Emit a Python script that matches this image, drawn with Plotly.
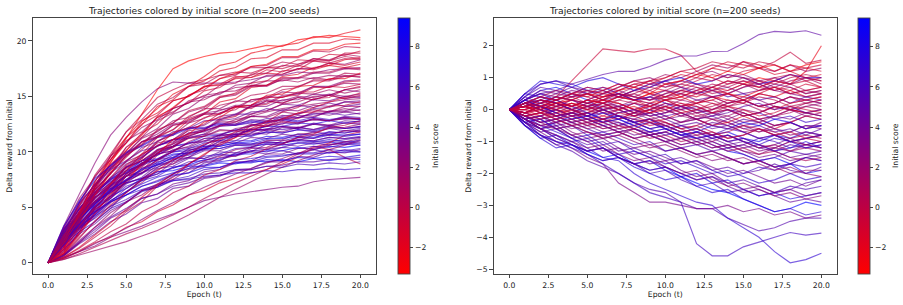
import plotly.graph_objects as go

epochs = list(range(21))

# initial score of each seed (shared by both panels)
scores = [8.1, 8.5, 9.0, 9.43,
          -3.31, 5.05, 3.0, 1.0,
          -2.3, 5.2, 3.1, 1.15,
          -1.8, 5.35, 3.25, 1.3,
          -1.4, 5.5, 3.4, 1.45,
          -1.1, 5.7, 3.55, 1.6,
          -0.8, 5.9, 3.7, 1.75,
          -0.55, 6.1, 3.85, 1.9,
          -0.3, 6.3, 4.0, 2.05,
          -0.1, 6.5, 4.15, 2.2,
          0.1, 6.7, 4.3, 2.35,
          0.3, 6.95, 4.45, 2.5,
          0.5, 7.2, 4.6, 2.65,
          0.7, 7.5, 4.75, 2.8,
          0.85, 7.8, 4.9, 2.95,
          -2.7, 5.25, 3.05, 1.2,
          -2.0, 5.8, 3.45, 1.5,
          -1.55, 6.4, 3.9, 1.8,
          -1.25, 6.85, 4.35, 2.1,
          -0.95, 7.35, 4.8, 2.4,
          -0.65, 8.3, 2.7, 0.95,
          -0.4, -0.2, 0.0, 0.2, 0.4, 0.6]

left_paths = [
    [0, 3.0, 4.8, 6.1, 7.5, 8.1, 9.0, 9.3, 9.8, 9.9, 10.3, 10.3, 10.6, 10.5, 10.7, 10.6, 10.8, 10.7, 10.9, 10.7, 10.8],
    [0, 2.4, 4.1, 5.3, 6.7, 7.5, 8.5, 9.0, 9.7, 9.9, 10.5, 10.6, 11.0, 11.0, 11.4, 11.3, 11.6, 11.5, 11.8, 11.7, 11.9],
    [0, 2.5, 4.0, 5.5, 6.3, 7.2, 7.6, 8.2, 8.3, 8.7, 8.7, 9.0, 8.9, 9.2, 9.1, 9.3, 9.1, 9.4, 9.2, 9.4, 9.3],
    [0, 2.1, 3.6, 4.7, 6.0, 6.7, 7.6, 8.0, 8.6, 8.8, 9.3, 9.4, 9.8, 9.8, 10.1, 10.1, 10.4, 10.2, 10.5, 10.4, 10.6],
    [0, 1.6, 4.0, 6.6, 9.0, 11.2, 13.3, 15.6, 17.5, 18.2, 18.6, 18.9, 19.0, 19.3, 19.6, 19.5, 20.1, 20.3, 20.5, 20.4, 20.3],
    [0, 2.4, 4.1, 5.9, 6.9, 8.3, 8.8, 9.8, 10.1, 10.8, 10.9, 11.5, 11.5, 12.0, 11.9, 12.3, 12.1, 12.5, 12.3, 12.6, 12.5],
    [0, 0.5, 1.0, 1.5, 2.3, 2.8, 3.3, 3.9, 4.4, 5.0, 5.6, 5.9, 6.2, 6.4, 6.6, 6.8, 6.9, 7.3, 7.5, 7.6, 7.7],
    [0, 2.6, 5.4, 7.8, 9.3, 11.0, 11.8, 13.1, 13.6, 14.5, 14.7, 15.4, 15.5, 16.0, 16.0, 16.5, 16.3, 16.7, 16.5, 16.9, 16.7],
    [0, 1.4, 4.0, 6.8, 9.1, 10.8, 12.7, 13.9, 15.2, 15.9, 16.8, 17.8, 18.1, 18.9, 19.2, 19.6, 19.8, 20.4, 20.3, 20.7, 21.0],
    [0, 2.6, 4.3, 5.9, 6.7, 7.8, 8.1, 8.9, 8.9, 9.5, 9.4, 9.8, 9.6, 10.0, 9.8, 10.1, 9.8, 10.2, 9.9, 10.2, 10.0],
    [0, 2.3, 4.0, 5.8, 7.1, 8.6, 9.4, 10.6, 11.1, 12.1, 12.4, 13.2, 13.4, 14.1, 14.1, 14.7, 14.7, 15.2, 15.1, 15.6, 15.4],
    [0, 0.7, 2.2, 3.8, 4.9, 6.4, 7.2, 8.4, 8.9, 9.9, 10.3, 11.2, 11.4, 12.1, 12.3, 13.0, 13.0, 13.6, 13.6, 14.1, 14.1],
    [0, 0.9, 2.8, 4.9, 6.5, 8.3, 9.4, 10.9, 11.6, 12.9, 13.4, 14.5, 14.8, 15.8, 16.0, 16.8, 17.0, 17.6, 17.8, 18.3, 18.5],
    [0, 2.8, 4.6, 6.1, 7.7, 8.6, 9.5, 10.5, 11.1, 11.4, 11.9, 12.3, 12.4, 12.6, 13.0, 13.1, 13.1, 13.4, 13.5, 13.3, 13.5],
    [0, 2.2, 4.2, 5.6, 7.0, 7.8, 9.0, 9.3, 10.2, 10.4, 11.0, 11.0, 11.6, 11.5, 12.0, 11.8, 12.2, 12.0, 12.4, 12.1, 12.3],
    [0, 2.2, 4.5, 6.6, 8.0, 9.7, 10.6, 11.9, 12.6, 13.6, 14.0, 14.9, 15.1, 15.9, 15.9, 16.6, 16.6, 17.1, 17.1, 17.5, 17.4],
    [0, 2.0, 4.6, 7.3, 9.6, 11.3, 12.8, 13.5, 14.6, 15.0, 15.9, 16.0, 16.6, 16.7, 17.1, 17.0, 17.5, 17.4, 17.8, 17.6, 17.9],
    [0, 1.9, 3.2, 4.2, 5.1, 6.1, 6.9, 7.4, 8.0, 8.7, 9.1, 9.3, 9.7, 10.1, 10.2, 10.4, 10.8, 10.9, 10.9, 11.1, 11.3],
    [0, 1.4, 3.0, 4.1, 5.4, 6.3, 7.5, 8.0, 9.1, 9.5, 10.4, 10.7, 11.5, 11.7, 12.4, 12.5, 13.1, 13.1, 13.7, 13.7, 14.1],
    [0, 2.7, 5.3, 7.0, 8.8, 9.9, 11.2, 11.8, 12.8, 13.1, 13.9, 13.9, 14.6, 14.5, 15.0, 14.9, 15.3, 15.2, 15.6, 15.3, 15.6],
    [0, 0.4, 1.0, 1.8, 2.3, 3.2, 3.7, 4.6, 5.2, 6.1, 6.5, 7.2, 7.6, 8.1, 8.4, 8.9, 9.5, 10.4, 10.8, 11.5, 11.8],
    [0, 2.7, 4.5, 6.3, 7.4, 8.6, 9.2, 10.0, 10.5, 10.7, 11.2, 11.2, 11.6, 11.5, 11.8, 11.7, 12.0, 11.8, 12.1, 11.9, 12.1],
    [0, 0.7, 1.8, 2.8, 4.0, 4.7, 5.8, 6.2, 7.1, 7.4, 8.2, 8.4, 9.0, 9.2, 9.8, 9.8, 10.3, 10.3, 10.7, 10.7, 11.1],
    [0, 0.3, 0.7, 1.1, 1.5, 1.9, 2.4, 2.9, 3.6, 4.3, 5.1, 5.9, 6.6, 7.3, 8.0, 8.6, 9.2, 9.7, 10.2, 10.6, 11.0],
    [0, 1.8, 4.2, 6.8, 8.9, 10.1, 11.7, 12.5, 13.9, 14.4, 15.5, 15.8, 16.7, 16.9, 17.6, 17.7, 18.3, 18.2, 18.8, 18.7, 19.1],
    [0, 1.8, 3.1, 4.0, 5.1, 5.7, 6.5, 6.8, 7.4, 7.6, 8.0, 8.1, 8.4, 8.4, 8.7, 8.6, 8.9, 8.8, 9.0, 8.9, 9.1],
    [0, 2.7, 4.4, 6.3, 7.5, 8.9, 9.5, 10.6, 10.9, 11.7, 11.8, 12.4, 12.4, 12.9, 12.8, 13.3, 13.1, 13.5, 13.3, 13.6, 13.4],
    [0, 1.2, 3.0, 5.3, 6.9, 8.7, 9.6, 11.0, 11.5, 12.6, 13.0, 13.8, 14.0, 14.7, 14.8, 15.4, 15.3, 15.9, 15.8, 16.2, 16.1],
    [0, 0.8, 2.5, 4.4, 5.8, 7.4, 8.3, 9.7, 10.4, 11.5, 11.9, 12.9, 13.2, 14.1, 14.3, 15.0, 15.1, 15.8, 15.8, 16.3, 16.4],
    [0, 2.3, 3.8, 5.4, 6.4, 7.5, 8.1, 8.9, 9.4, 9.7, 10.2, 10.3, 10.7, 10.7, 11.1, 11.0, 11.3, 11.2, 11.5, 11.4, 11.6],
    [0, 1.1, 2.8, 4.9, 6.4, 8.0, 8.9, 10.2, 10.7, 11.7, 12.0, 12.8, 13.0, 13.6, 13.7, 14.3, 14.2, 14.7, 14.6, 15.0, 14.9],
    [0, 2.8, 4.5, 6.4, 7.6, 9.1, 9.7, 10.8, 11.1, 11.9, 12.1, 12.7, 12.7, 13.2, 13.1, 13.6, 13.4, 13.8, 13.6, 13.9, 13.7],
    [0, 1.5, 4.1, 6.9, 9.6, 11.8, 13.4, 14.9, 15.6, 16.2, 16.5, 16.9, 17.2, 17.1, 17.6, 17.5, 17.9, 18.2, 18.0, 18.4, 18.3],
    [0, 3.2, 5.6, 7.4, 8.8, 10.0, 10.6, 11.4, 11.6, 12.2, 12.2, 12.6, 12.5, 12.8, 12.7, 13.0, 12.8, 13.1, 12.9, 13.1, 13.0],
    [0, 2.4, 3.9, 5.5, 6.5, 7.8, 8.3, 9.3, 9.5, 10.2, 10.3, 10.9, 10.8, 11.3, 11.2, 11.6, 11.4, 11.8, 11.6, 11.9, 11.8],
    [0, 2.3, 4.9, 6.6, 8.5, 9.8, 11.3, 12.1, 13.4, 13.9, 14.9, 15.2, 16.0, 16.2, 16.9, 17.0, 17.5, 17.5, 18.0, 17.9, 18.3],
    [0, 0.5, 1.3, 2.3, 3.3, 4.6, 5.5, 6.9, 7.7, 8.9, 9.7, 10.8, 11.3, 12.4, 12.7, 13.6, 14.0, 14.8, 14.9, 15.6, 15.9],
    [0, 1.6, 2.8, 3.7, 4.9, 5.5, 6.4, 6.8, 7.5, 7.8, 8.4, 8.6, 9.1, 9.1, 9.5, 9.6, 9.9, 9.9, 10.2, 10.1, 10.3],
    [0, 1.9, 3.3, 4.8, 5.8, 7.1, 7.7, 8.8, 9.2, 10.0, 10.2, 11.0, 11.0, 11.7, 11.6, 12.2, 12.1, 12.6, 12.4, 12.8, 12.7],
    [0, 0.6, 1.8, 3.2, 4.2, 5.5, 6.1, 7.1, 7.5, 8.4, 8.7, 9.5, 9.6, 10.3, 10.4, 11.0, 11.0, 11.5, 11.5, 11.9, 11.9],
    [0, 1.3, 3.7, 6.3, 8.3, 10.4, 11.6, 13.2, 13.9, 15.1, 15.6, 16.6, 16.9, 17.7, 17.8, 18.5, 18.5, 19.1, 19.0, 19.5, 19.4],
    [0, 2.5, 4.2, 5.5, 6.9, 7.8, 8.8, 9.3, 10.0, 10.3, 10.8, 11.0, 11.4, 11.4, 11.8, 11.7, 12.0, 11.9, 12.2, 12.1, 12.3],
    [0, 0.6, 1.7, 2.6, 3.7, 4.4, 5.4, 5.8, 6.7, 6.9, 7.6, 7.8, 8.4, 8.5, 9.1, 9.1, 9.6, 9.5, 10.0, 9.9, 10.2],
    [0, 3.0, 5.1, 6.8, 8.5, 9.6, 10.9, 11.4, 12.4, 12.7, 13.4, 13.5, 14.1, 14.0, 14.6, 14.4, 14.9, 14.7, 15.1, 14.8, 15.0],
    [0, 1.7, 3.9, 6.2, 8.1, 9.5, 10.9, 11.3, 12.4, 12.6, 13.4, 13.4, 14.1, 13.9, 14.6, 14.4, 14.9, 14.7, 15.1, 14.8, 15.1],
    [0, 2.0, 3.6, 4.6, 5.5, 6.1, 6.6, 7.0, 7.4, 7.5, 7.8, 7.9, 8.1, 8.1, 8.3, 8.2, 8.4, 8.4, 8.5, 8.4, 8.5],
    [0, 2.9, 4.9, 6.5, 8.1, 9.1, 10.4, 10.9, 11.8, 12.1, 12.8, 12.9, 13.4, 13.4, 13.9, 13.7, 14.2, 14.0, 14.4, 14.1, 14.3],
    [0, 1.6, 3.4, 5.1, 6.2, 7.8, 8.6, 9.9, 10.5, 11.6, 12.0, 13.0, 13.3, 14.2, 14.4, 15.1, 15.2, 15.9, 15.9, 16.4, 16.5],
    [0, 1.0, 2.6, 4.6, 6.0, 7.8, 8.7, 10.1, 10.8, 12.0, 12.5, 13.5, 13.8, 14.7, 14.9, 15.6, 15.8, 16.5, 16.5, 17.1, 17.0],
    [0, 2.9, 4.9, 6.3, 7.6, 8.3, 9.2, 9.4, 10.0, 10.1, 10.5, 10.5, 10.8, 10.7, 10.9, 10.8, 11.0, 10.9, 11.1, 10.9, 11.0],
    [0, 1.2, 2.6, 3.5, 4.7, 5.4, 6.5, 6.9, 7.8, 8.1, 9.0, 9.2, 9.9, 10.0, 10.7, 10.7, 11.3, 11.2, 11.8, 11.7, 12.0],
    [0, 3.3, 6.2, 9.0, 11.5, 13.1, 14.5, 15.7, 16.3, 16.2, 16.2, 16.2, 16.3, 16.5, 16.8, 16.9, 17.2, 17.1, 17.4, 17.5, 17.6],
    [0, 0.3, 0.8, 1.4, 2.0, 2.6, 3.1, 3.7, 4.3, 5.0, 5.8, 6.5, 7.2, 7.8, 8.4, 9.1, 9.8, 10.5, 10.2, 9.5, 8.9],
    [0, 2.6, 4.4, 5.8, 7.3, 8.1, 9.2, 9.7, 10.5, 10.8, 11.4, 11.5, 12.0, 12.0, 12.3, 12.3, 12.6, 12.5, 12.8, 12.6, 12.8],
    [0, 2.1, 3.5, 5.1, 6.0, 7.2, 7.6, 8.5, 8.7, 9.4, 9.4, 10.0, 9.9, 10.4, 10.2, 10.7, 10.5, 10.8, 10.6, 10.9, 10.8],
    [0, 2.1, 3.7, 5.5, 6.6, 8.0, 8.8, 9.9, 10.4, 11.3, 11.6, 12.4, 12.5, 13.2, 13.2, 13.8, 13.7, 14.2, 14.1, 14.5, 14.4],
    [0, 2.0, 4.7, 7.1, 8.6, 10.4, 11.3, 12.8, 13.5, 14.6, 15.0, 16.0, 16.2, 17.0, 17.1, 17.8, 17.7, 18.4, 18.3, 18.8, 18.6],
    [0, 2.0, 3.3, 4.3, 5.5, 6.1, 6.9, 7.3, 7.9, 8.1, 8.6, 8.6, 9.0, 9.0, 9.3, 9.2, 9.5, 9.4, 9.6, 9.5, 9.7],
    [0, 2.0, 3.4, 5.0, 6.0, 7.4, 8.0, 9.1, 9.4, 10.3, 10.6, 11.3, 11.4, 12.0, 12.0, 12.6, 12.5, 13.0, 12.8, 13.2, 13.1],
    [0, 2.5, 4.3, 6.1, 7.2, 8.6, 9.2, 10.2, 10.5, 11.3, 11.4, 12.0, 11.9, 12.5, 12.3, 12.8, 12.6, 13.0, 12.8, 13.1, 12.9],
    [0, 1.2, 3.6, 6.1, 8.1, 10.1, 11.5, 13.1, 14.0, 15.1, 15.8, 16.6, 17.1, 17.7, 17.9, 18.6, 18.6, 19.2, 19.2, 19.7, 19.8],
    [0, 3.0, 5.4, 7.0, 8.4, 9.2, 10.1, 10.5, 11.1, 11.2, 11.6, 11.6, 11.9, 11.8, 12.1, 12.0, 12.2, 12.0, 12.3, 12.1, 12.2],
    [0, 1.8, 3.7, 5.0, 6.5, 7.4, 8.5, 9.2, 10.1, 10.5, 11.2, 11.5, 12.1, 12.3, 12.8, 12.8, 13.3, 13.2, 13.6, 13.6, 13.8],
    [0, 1.8, 3.2, 4.8, 5.9, 7.3, 8.1, 9.3, 10.0, 10.9, 11.5, 12.3, 12.7, 13.4, 13.7, 14.3, 14.5, 15.0, 15.1, 15.6, 15.8],
    [0, 0.8, 2.7, 4.4, 6.2, 7.4, 8.9, 9.8, 11.1, 11.6, 12.7, 13.1, 14.0, 14.2, 15.1, 15.2, 15.9, 16.0, 16.6, 16.6, 17.1],
    [0, 2.1, 3.5, 5.0, 5.8, 6.9, 7.4, 8.2, 8.5, 9.1, 9.2, 9.7, 9.7, 10.1, 10.0, 10.4, 10.3, 10.5, 10.4, 10.7, 10.6],
    [0, 2.4, 4.1, 5.9, 7.0, 8.2, 8.9, 9.8, 10.1, 10.8, 11.0, 11.5, 11.6, 12.0, 12.0, 12.3, 12.2, 12.5, 12.4, 12.6, 12.6],
    [0, 3.1, 5.8, 7.7, 9.6, 10.8, 12.2, 12.9, 13.9, 14.4, 15.1, 15.3, 15.8, 15.9, 16.4, 16.4, 16.7, 16.6, 16.9, 16.8, 17.0],
    [0, 1.7, 4.4, 7.3, 9.3, 11.3, 12.4, 14.1, 14.7, 15.9, 16.4, 17.3, 17.6, 18.4, 18.5, 19.2, 19.2, 19.8, 19.8, 20.2, 20.1],
    [0, 1.6, 3.2, 4.3, 5.6, 6.4, 7.4, 7.8, 8.6, 8.9, 9.6, 9.8, 10.3, 10.4, 10.8, 10.8, 11.1, 11.0, 11.3, 11.2, 11.4],
    [0, 1.7, 3.1, 4.5, 5.5, 6.7, 7.5, 8.6, 9.2, 10.1, 10.6, 11.4, 11.7, 12.4, 12.6, 13.2, 13.4, 13.9, 14.0, 14.5, 14.6],
    [0, 2.1, 3.9, 5.5, 6.8, 8.0, 9.0, 9.9, 10.7, 11.4, 11.9, 12.4, 12.9, 13.2, 13.6, 13.9, 14.1, 14.3, 14.5, 14.7, 14.8],
    [0, 0.5, 1.4, 2.5, 3.6, 4.8, 5.9, 7.0, 8.0, 8.9, 9.8, 10.6, 11.3, 11.9, 12.5, 13.0, 13.5, 14.0, 14.5, 14.9, 15.3],
    [0, 3.3, 5.5, 7.6, 8.7, 9.9, 10.5, 11.3, 11.5, 12.1, 12.1, 12.5, 12.4, 12.7, 12.6, 12.9, 12.7, 12.9, 12.8, 13.0, 12.9],
    [0, 2.0, 3.9, 5.3, 6.4, 7.2, 8.1, 8.6, 9.3, 9.5, 10.1, 10.1, 10.6, 10.6, 10.9, 10.8, 11.1, 11.0, 11.3, 11.2, 11.3],
    [0, 0.7, 2.0, 3.2, 4.5, 5.4, 6.5, 7.1, 8.0, 8.5, 9.2, 9.6, 10.2, 10.4, 11.0, 11.1, 11.6, 11.7, 12.1, 12.2, 12.5],
    [0, 1.9, 4.5, 6.9, 9.3, 10.8, 12.5, 13.3, 14.6, 15.0, 15.9, 16.1, 16.8, 16.7, 17.4, 17.2, 17.8, 17.5, 18.0, 17.8, 18.1],
    [0, 1.9, 3.4, 4.6, 5.6, 6.4, 7.1, 7.7, 8.1, 8.5, 8.8, 9.1, 9.3, 9.4, 9.6, 9.7, 9.8, 9.8, 9.9, 10.0, 10.0],
    [0, 0.7, 1.9, 3.0, 4.1, 4.9, 5.8, 6.2, 6.9, 7.2, 7.7, 7.9, 8.3, 8.4, 8.7, 8.8, 9.1, 9.1, 9.3, 9.4, 9.5],
    [0, 2.7, 5.2, 7.1, 8.6, 9.8, 10.9, 11.6, 12.5, 12.8, 13.5, 13.7, 14.2, 14.2, 14.7, 14.6, 15.0, 14.9, 15.2, 15.0, 15.2],
    [0, 1.0, 3.3, 5.0, 7.1, 8.3, 9.8, 10.5, 11.7, 12.2, 13.1, 13.4, 14.1, 14.2, 14.9, 14.9, 15.4, 15.4, 15.9, 15.8, 16.1],
    [0, 2.1, 3.9, 5.2, 6.6, 7.4, 8.4, 8.8, 9.5, 9.8, 10.3, 10.5, 10.8, 10.9, 11.2, 11.2, 11.4, 11.3, 11.6, 11.5, 11.6],
    [0, 0.4, 1.0, 1.7, 2.4, 3.1, 3.9, 4.7, 5.4, 6.1, 6.8, 7.4, 8.0, 8.5, 9.0, 9.4, 9.9, 10.2, 10.6, 10.9, 11.2],
    [0, 2.5, 4.3, 6.1, 7.2, 8.5, 9.2, 10.1, 10.5, 11.2, 11.4, 11.9, 11.9, 12.4, 12.3, 12.7, 12.6, 12.9, 12.8, 13.0, 13.0],
    [0, 1.8, 3.9, 5.8, 7.1, 8.8, 9.8, 11.3, 12.0, 13.2, 13.8, 14.9, 15.3, 16.2, 16.4, 17.3, 17.4, 18.2, 18.2, 18.9, 18.9],
    [0, 0.8, 2.3, 3.7, 5.2, 6.3, 7.5, 8.3, 9.3, 9.8, 10.7, 11.1, 11.8, 12.1, 12.7, 12.9, 13.5, 13.6, 14.1, 14.2, 14.5],
    [0, 2.0, 4.3, 6.6, 8.0, 9.7, 10.7, 12.0, 12.6, 13.7, 14.1, 15.0, 15.2, 16.0, 16.0, 16.7, 16.7, 17.2, 17.2, 17.6, 17.5],
    [0, 0.4, 1.1, 1.9, 2.8, 3.5, 4.6, 5.3, 6.3, 6.9, 7.9, 8.4, 9.2, 9.6, 10.3, 10.7, 11.3, 11.6, 12.2, 12.4, 12.8],
    [0, 2.3, 5.1, 7.9, 9.8, 11.8, 12.9, 14.3, 14.9, 15.9, 16.1, 16.9, 17.0, 17.6, 17.6, 18.1, 17.9, 18.4, 18.2, 18.6, 18.4],
    [0, 2.1, 4.2, 6.3, 7.7, 9.2, 10.2, 11.4, 12.0, 13.0, 13.5, 14.2, 14.5, 15.1, 15.3, 15.9, 15.9, 16.4, 16.4, 16.8, 16.8],
]

right_paths = [
    [0, -0.5, -0.9, -0.8, -1.1, -1.3, -1.2, -1.5, -1.7, -1.6, -1.9, -2.1, -2.0, -2.3, -2.2, -2.5, -2.7, -2.6, -2.8, -2.7, -2.6],
    [0, -0.4, -0.6, -0.4, -0.2, -0.3, -0.1, -0.2, -0.4, -0.3, -0.5, -0.7, -0.6, -0.8, -0.7, -0.9, -1.0, -0.8, -0.9, -0.7, -0.8],
    [0, 0.3, 0.6, 0.7, 0.5, 0.3, 0.0, -0.2, -0.4, -0.3, -0.6, -0.8, -0.9, -1.1, -1.3, -1.4, -1.6, -1.5, -1.7, -2.0, -1.9],
    [0, -0.4, -0.8, -1.0, -1.1, -1.3, -1.5, -1.4, -1.7, -1.9, -1.8, -2.1, -2.3, -2.5, -2.6, -2.8, -3.0, -3.2, -3.1, -2.9, -3.0],
    [0, 0.1, 0.2, 0.1, 0.3, 0.2, 0.4, 0.5, 0.3, 0.5, 0.6, 0.4, 0.6, 0.7, 0.9, 0.8, 1.0, 0.9, 1.1, 1.0, 0.9],
    [0, -0.4, -0.7, -0.6, -0.9, -1.1, -1.0, -1.3, -1.2, -1.4, -1.6, -1.5, -1.7, -1.9, -1.8, -2.0, -1.9, -1.7, -1.9, -2.0, -1.8],
    [0, 0.2, 0.0, -0.2, -0.1, 0.1, -0.1, -0.3, -0.2, 0.0, -0.2, -0.4, -0.3, -0.5, -0.3, -0.1, -0.3, -0.5, -0.4, -0.6, -0.4],
    [0, 0.2, 0.1, 0.3, 0.4, 0.2, 0.3, 0.5, 0.7, 0.6, 0.4, 0.5, 0.7, 0.6, 0.8, 1.0, 0.9, 0.7, 0.9, 1.0, 0.8],
    [0, -0.1, 0.1, 0.2, 0.1, 0.3, 0.2, 0.4, 0.3, 0.5, 0.4, 0.6, 0.5, 0.7, 0.6, 0.8, 0.7, 0.9, 0.8, 1.2, 2.0],
    [0, 0.4, 0.7, 0.6, 0.4, 0.5, 0.3, 0.1, 0.2, 0.0, -0.2, -0.1, -0.3, -0.2, -0.4, -0.6, -0.5, -0.7, -0.6, -0.8, -0.6],
    [0, -0.3, -0.5, -0.4, -0.7, -0.9, -0.8, -1.0, -1.2, -1.1, -1.3, -1.2, -1.4, -1.6, -1.5, -1.7, -1.6, -1.8, -1.7, -1.5, -1.6],
    [0, -0.2, -0.1, 0.1, 0.0, -0.2, -0.4, -0.3, -0.1, -0.2, -0.4, -0.6, -0.5, -0.3, -0.4, -0.6, -0.7, -0.5, -0.4, -0.6, -0.5],
    [0, 0.2, 0.1, -0.1, 0.0, -0.2, 0.0, 0.1, -0.1, 0.2, 0.3, 0.1, 0.2, 0.4, 0.3, 0.2, 0.5, 0.4, 0.6, 0.4, 0.5],
    [0, -0.4, -0.8, -1.1, -1.3, -1.6, -1.8, -2.0, -2.3, -2.5, -2.6, -2.9, -3.1, -3.1, -3.4, -3.6, -3.8, -3.7, -3.5, -3.4, -3.4],
    [0, 0.3, 0.5, 0.4, 0.6, 0.5, 0.3, 0.4, 0.6, 0.8, 0.7, 0.9, 0.8, 0.6, 0.7, 0.5, 0.6, 0.8, 0.7, 0.5, 0.6],
    [0, 0.1, 0.3, 0.2, 0.0, -0.1, 0.1, 0.2, 0.0, -0.2, -0.1, 0.1, 0.3, 0.2, 0.0, -0.2, -0.1, 0.1, 0.0, 0.2, 0.1],
    [0, -0.1, -0.2, 0.0, -0.1, -0.3, -0.2, 0.0, -0.2, -0.4, -0.3, -0.1, -0.3, -0.5, -0.4, -0.2, -0.4, -0.6, -0.4, -0.2, -0.3],
    [0, -0.3, -0.2, -0.5, -0.4, -0.6, -0.8, -0.7, -0.9, -0.8, -1.0, -1.2, -1.1, -1.3, -1.2, -1.4, -1.6, -1.5, -1.3, -1.4, -1.3],
    [0, -0.2, -0.1, -0.3, -0.5, -0.4, -0.6, -0.5, -0.3, -0.4, -0.6, -0.8, -0.7, -0.9, -0.8, -1.0, -1.2, -1.1, -0.9, -1.1, -1.0],
    [0, 0.2, 0.4, 0.3, 0.5, 0.7, 0.6, 0.8, 0.7, 0.9, 1.1, 1.0, 1.2, 1.4, 1.3, 1.5, 1.3, 1.2, 1.4, 1.2, 1.3],
    [0, 0.1, 0.3, 0.2, 0.4, 0.5, 0.3, 0.6, 0.8, 0.7, 0.9, 1.1, 1.0, 1.3, 1.2, 1.5, 1.4, 1.2, 1.4, 1.3, 1.2],
    [0, 0.5, 0.8, 0.9, 0.7, 0.5, 0.6, 0.4, 0.6, 0.8, 0.9, 0.7, 0.5, 0.6, 0.4, 0.5, 0.3, 0.4, 0.2, 0.4, 0.3],
    [0, -0.4, -0.7, -1.0, -1.2, -1.5, -1.7, -2.3, -2.6, -2.9, -2.9, -3.0, -3.1, -3.1, -3.0, -3.2, -3.1, -3.3, -3.2, -3.4, -3.3],
    [0, -0.1, -0.3, -0.2, -0.4, -0.3, -0.5, -0.7, -0.6, -0.8, -0.7, -0.5, -0.6, -0.8, -1.0, -0.9, -1.1, -1.2, -1.0, -1.1, -1.0],
    [0, 0.0, -0.2, -0.1, 0.1, 0.0, -0.2, -0.3, -0.1, 0.0, 0.2, 0.1, -0.1, 0.0, 0.2, 0.3, 0.1, 0.0, 0.2, 0.3, 0.2],
    [0, -0.5, -0.8, -1.0, -1.2, -1.4, -1.6, -1.5, -1.7, -2.0, -1.9, -2.2, -2.4, -2.3, -2.6, -2.5, -2.7, -2.6, -2.4, -2.5, -2.4],
    [0, 0.1, 0.3, 0.2, 0.0, 0.2, 0.1, -0.1, 0.0, 0.2, 0.1, -0.1, -0.3, -0.2, 0.0, -0.1, -0.3, -0.2, 0.0, -0.1, -0.2],
    [0, 0.0, 0.2, 0.4, 0.3, 0.1, 0.2, 0.0, -0.2, -0.1, 0.1, 0.3, 0.2, 0.4, 0.5, 0.3, 0.1, 0.2, 0.4, 0.2, 0.3],
    [0, 0.1, 0.2, 0.4, 0.9, 1.4, 1.9, 1.85, 1.8, 1.9, 1.9, 1.7, 1.2, 1.0, 0.8, 0.9, 0.7, 0.6, 0.8, 0.9, 0.7],
    [0, 0.3, 0.1, -0.2, -0.1, -0.3, -0.5, -0.4, -0.6, -0.8, -0.7, -0.9, -1.1, -1.0, -1.2, -1.1, -0.9, -1.0, -1.2, -1.1, -1.0],
    [0, -0.3, -0.2, -0.4, -0.3, -0.5, -0.7, -0.6, -0.8, -0.7, -0.9, -1.1, -1.0, -1.2, -1.1, -1.3, -1.5, -1.4, -1.6, -1.5, -1.4],
    [0, -0.3, -0.2, -0.4, -0.3, -0.1, 0.0, -0.2, -0.1, 0.1, 0.0, -0.2, -0.3, -0.1, -0.2, -0.4, -0.3, -0.5, -0.4, -0.2, -0.3],
    [0, 0.1, 0.0, 0.2, 0.3, 0.2, 0.4, 0.5, 0.4, 0.6, 0.8, 0.7, 0.9, 1.1, 1.0, 1.2, 1.3, 1.5, 1.8, 1.45, 1.55],
    [0, -0.3, -0.6, -0.9, -1.1, -1.4, -1.7, -2.0, -2.3, -2.6, -2.75, -2.9, -4.2, -4.58, -4.58, -4.3, -4.15, -4.0, -3.85, -3.93, -3.87],
    [0, -0.4, -0.6, -0.5, -0.8, -1.0, -0.9, -1.2, -1.4, -1.3, -1.5, -1.7, -1.6, -1.8, -2.0, -1.9, -2.1, -2.3, -2.2, -2.4, -2.2],
    [0, 0.2, 0.3, 0.5, 0.4, 0.6, 0.5, 0.7, 0.9, 1.0, 0.8, 0.9, 1.1, 1.2, 1.0, 1.1, 0.9, 1.0, 0.8, 1.0, 0.9],
    [0, -0.1, 0.0, -0.2, -0.1, -0.3, -0.4, -0.2, -0.3, -0.5, -0.4, -0.6, -0.5, -0.7, -0.9, -0.8, -0.6, -0.8, -1.0, -0.9, -0.8],
    [0, -0.4, -0.3, -0.6, -0.5, -0.8, -0.7, -0.9, -1.1, -1.0, -1.3, -1.2, -1.4, -1.3, -1.5, -1.7, -1.6, -1.8, -1.7, -1.5, -1.6],
    [0, 0.3, 0.6, 0.5, 0.7, 0.6, 0.4, 0.5, 0.3, 0.4, 0.6, 0.5, 0.3, 0.4, 0.2, 0.3, 0.1, 0.2, 0.4, 0.3, 0.2],
    [0, -0.2, -0.4, -0.3, -0.5, -0.7, -0.8, -0.7, -0.9, -1.1, -1.0, -1.2, -1.4, -1.3, -1.5, -1.7, -1.6, -1.8, -2.0, -1.9, -1.9],
    [0, 0.2, 0.3, 0.1, 0.2, 0.0, 0.1, 0.3, 0.2, 0.4, 0.3, 0.1, 0.2, 0.0, 0.1, 0.3, 0.5, 0.4, 0.2, 0.3, 0.4],
    [0, 0.4, 0.8, 0.9, 0.8, 0.6, 0.7, 0.5, 0.3, 0.4, 0.2, 0.0, 0.1, -0.1, 0.0, -0.2, -0.1, -0.3, -0.2, -0.4, -0.3],
    [0, -0.1, 0.1, 0.0, -0.2, -0.1, -0.3, -0.2, -0.4, -0.6, -0.5, -0.7, -0.6, -0.4, -0.5, -0.7, -0.9, -0.8, -1.0, -0.9, -0.8],
    [0, 0.1, 0.0, -0.2, -0.1, 0.1, 0.0, -0.2, -0.4, -0.3, -0.5, -0.4, -0.2, -0.3, -0.5, -0.7, -0.6, -0.8, -0.7, -0.5, -0.6],
    [0, -0.1, 0.1, 0.2, 0.0, 0.2, 0.3, 0.5, 0.4, 0.3, 0.5, 0.6, 0.8, 0.7, 0.5, 0.7, 0.9, 0.8, 1.0, 1.1, 1.0],
    [0, -0.3, -0.6, -0.8, -1.0, -0.9, -1.2, -1.4, -1.3, -1.5, -1.7, -1.6, -1.8, -2.0, -1.9, -2.1, -2.3, -2.2, -2.0, -2.2, -2.1],
    [0, -0.3, -0.6, -0.9, -1.1, -1.3, -1.2, -1.5, -1.7, -1.9, -1.8, -2.0, -2.2, -2.1, -2.4, -2.6, -2.5, -2.7, -2.9, -2.8, -2.9],
    [0, -0.2, -0.4, -0.3, -0.1, -0.2, 0.0, 0.1, -0.1, 0.0, 0.2, 0.1, -0.1, 0.0, 0.2, 0.4, 0.3, 0.1, 0.0, 0.1, 0.2],
    [0, 0.1, -0.1, 0.0, 0.2, 0.1, 0.3, 0.2, 0.0, -0.1, 0.1, 0.0, -0.2, -0.1, 0.1, -0.1, -0.3, -0.2, 0.0, -0.1, -0.2],
    [0, -0.2, -0.5, -0.7, -0.9, -1.2, -1.5, -1.6, -2.0, -2.3, -2.5, -2.7, -2.9, -3.0, -3.4, -3.7, -4.0, -4.45, -4.8, -4.7, -4.5],
    [0, 0.2, 0.1, -0.1, -0.3, -0.2, -0.4, -0.6, -0.5, -0.7, -0.6, -0.8, -1.0, -0.9, -1.1, -1.0, -1.2, -1.3, -1.1, -1.2, -1.1],
    [0, -0.3, -0.5, -0.6, -0.8, -0.7, -0.9, -0.8, -0.6, -0.7, -0.9, -1.1, -1.0, -1.2, -1.1, -1.3, -1.4, -1.2, -1.3, -1.1, -1.2],
    [0, 0.0, 0.2, 0.3, 0.1, 0.3, 0.5, 0.4, 0.6, 0.5, 0.3, 0.4, 0.6, 0.8, 0.7, 0.9, 0.8, 0.6, 0.7, 0.5, 0.6],
    [0, 0.3, 0.5, 0.3, 0.1, -0.1, -0.3, -0.2, -0.4, -0.6, -0.5, -0.7, -0.9, -0.8, -1.0, -0.9, -1.1, -1.3, -1.2, -1.0, -1.2],
    [0, -0.2, -0.4, -0.3, -0.1, -0.2, 0.0, -0.2, -0.3, -0.1, -0.3, -0.5, -0.4, -0.6, -0.5, -0.3, -0.4, -0.6, -0.7, -0.5, -0.5],
    [0, 0.2, 0.4, 0.3, 0.1, 0.3, 0.5, 0.6, 0.4, 0.3, 0.5, 0.7, 0.6, 0.4, 0.5, 0.7, 0.8, 0.6, 0.5, 0.4, 0.5],
    [0, -0.2, -0.1, -0.3, -0.5, -0.4, -0.6, -0.5, -0.7, -0.9, -0.8, -1.0, -0.9, -1.1, -1.3, -1.2, -1.4, -1.3, -1.5, -1.6, -1.5],
    [0, 0.5, 0.9, 0.8, 0.7, 0.9, 1.0, 0.8, 0.6, 0.7, 0.9, 1.0, 0.8, 0.9, 1.1, 1.0, 0.8, 0.9, 1.1, 1.0, 1.0],
    [0, 0.3, 0.5, 0.6, 0.8, 0.95, 1.1, 1.2, 1.2, 1.35, 1.55, 1.68, 1.68, 1.82, 1.83, 2.07, 2.35, 2.45, 2.42, 2.47, 2.33],
    [0, -0.3, -0.6, -0.8, -1.0, -1.2, -1.1, -1.4, -1.6, -1.5, -1.8, -2.0, -1.9, -2.2, -2.4, -2.3, -2.5, -2.7, -2.6, -2.8, -2.7],
    [0, 0.1, 0.0, 0.2, 0.3, 0.5, 0.4, 0.6, 0.7, 0.5, 0.8, 0.9, 1.1, 1.0, 1.2, 1.1, 1.3, 1.4, 1.2, 1.4, 1.5],
    [0, -0.5, -0.8, -1.1, -1.0, -1.3, -1.2, -1.5, -1.7, -1.6, -1.8, -2.0, -2.2, -2.1, -2.3, -2.2, -2.4, -2.6, -2.5, -2.3, -2.2],
    [0, -0.3, -0.5, -0.4, -0.6, -0.5, -0.3, -0.4, -0.6, -0.8, -0.7, -0.9, -0.8, -1.0, -1.2, -1.1, -1.3, -1.2, -1.0, -1.1, -1.2],
    [0, 0.1, 0.3, 0.2, 0.0, 0.1, -0.1, 0.0, 0.2, 0.1, -0.1, 0.0, 0.2, 0.3, 0.1, 0.2, 0.0, -0.2, -0.1, 0.1, 0.0],
    [0, -0.1, 0.1, 0.0, 0.2, 0.1, 0.3, 0.2, 0.0, 0.1, 0.3, 0.4, 0.2, 0.3, 0.5, 0.4, 0.6, 0.7, 0.5, 0.6, 0.7],
    [0, 0.4, 0.2, 0.0, -0.2, -0.1, -0.3, -0.5, -0.4, -0.6, -0.8, -0.7, -0.9, -0.8, -0.6, -0.7, -0.9, -0.8, -1.0, -0.9, -0.8],
    [0, 0.3, 0.2, 0.4, 0.3, 0.1, 0.2, 0.0, -0.2, -0.1, -0.3, -0.2, 0.0, -0.1, -0.3, -0.5, -0.4, -0.2, -0.3, -0.1, -0.2],
    [0, 0.2, 0.4, 0.6, 0.5, 0.7, 0.6, 0.4, 0.5, 0.3, 0.4, 0.6, 0.5, 0.7, 0.9, 0.8, 0.6, 0.7, 0.5, 0.6, 0.5],
    [0, 0.1, 0.3, 0.2, 0.1, 0.3, 0.2, 0.0, 0.1, -0.1, 0.0, 0.2, 0.1, -0.1, 0.0, -0.2, -0.1, 0.1, 0.0, -0.1, 0.0],
    [0, -0.4, -0.3, -0.6, -0.9, -0.8, -1.1, -1.0, -1.3, -1.5, -1.4, -1.7, -1.6, -1.9, -2.1, -2.0, -1.8, -1.9, -1.7, -1.8, -1.7],
    [0, -0.3, -0.6, -0.5, -0.8, -1.0, -1.3, -1.2, -1.5, -1.7, -1.6, -1.9, -2.1, -2.0, -2.3, -2.5, -2.4, -2.6, -2.5, -2.7, -2.6],
    [0, -0.1, -0.3, -0.2, -0.4, -0.6, -0.5, -0.7, -0.9, -0.8, -1.0, -0.9, -1.1, -1.0, -0.8, -1.0, -1.2, -1.1, -1.3, -1.2, -1.3],
    [0, 0.0, 0.1, 0.3, 0.5, 0.4, 0.6, 0.8, 0.7, 0.9, 1.0, 1.2, 1.1, 1.3, 1.5, 1.4, 1.3, 1.1, 1.2, 1.0, 1.1],
    [0, 0.5, 0.4, 0.2, 0.0, -0.2, -0.1, -0.3, -0.5, -0.4, -0.6, -0.5, -0.7, -0.9, -0.8, -1.0, -1.1, -0.9, -1.0, -1.2, -1.1],
    [0, 0.2, 0.0, -0.2, -0.4, -0.3, -0.5, -0.7, -0.6, -0.8, -1.0, -0.9, -0.7, -0.8, -1.0, -1.2, -1.1, -1.3, -1.5, -1.4, -1.5],
    [0, 0.2, 0.0, 0.1, -0.1, 0.0, 0.2, 0.1, 0.3, 0.2, 0.0, -0.2, -0.1, -0.3, -0.2, 0.0, -0.1, 0.1, 0.0, -0.2, -0.1],
    [0, -0.2, -0.1, 0.1, 0.2, 0.0, 0.2, 0.4, 0.3, 0.1, 0.3, 0.5, 0.4, 0.6, 0.5, 0.3, 0.5, 0.7, 0.6, 0.8, 0.7],
    [0, -0.5, -0.9, -1.2, -1.1, -1.4, -1.6, -1.5, -1.8, -2.0, -2.2, -2.1, -2.4, -2.6, -2.5, -2.8, -3.0, -3.2, -3.1, -3.3, -3.2],
    [0, -0.3, -0.2, 0.0, -0.2, -0.4, -0.3, -0.1, 0.0, -0.2, -0.1, 0.1, 0.0, -0.2, -0.1, 0.1, 0.2, 0.0, 0.1, -0.1, 0.0],
    [0, -0.2, -0.4, -0.6, -0.5, -0.7, -0.9, -0.8, -1.0, -1.2, -1.1, -1.3, -1.5, -1.4, -1.6, -1.5, -1.7, -1.9, -1.8, -2.0, -2.1],
    [0, 0.1, -0.1, -0.2, 0.0, -0.2, -0.3, -0.1, -0.2, 0.0, 0.1, -0.1, 0.0, 0.2, 0.1, 0.0, -0.2, -0.1, 0.1, 0.0, -0.1],
    [0, 0.3, 0.1, -0.1, -0.3, -0.2, -0.4, -0.3, -0.5, -0.7, -0.6, -0.8, -0.7, -0.5, -0.6, -0.4, -0.5, -0.3, -0.4, -0.6, -0.5],
    [0, 0.2, 0.3, 0.1, 0.3, 0.2, 0.0, 0.1, -0.1, -0.3, -0.2, -0.4, -0.3, -0.5, -0.6, -0.5, -0.7, -0.6, -0.8, -0.7, -0.8],
    [0, -0.2, -0.3, -0.1, -0.3, -0.5, -0.4, -0.6, -0.5, -0.3, -0.4, -0.6, -0.8, -0.7, -0.9, -0.8, -0.6, -0.7, -0.9, -0.8, -0.9],
    [0, 0.2, 0.4, 0.3, 0.5, 0.6, 0.5, 0.7, 0.9, 0.8, 1.0, 1.2, 1.3, 1.5, 1.4, 1.3, 1.5, 1.4, 1.2, 1.3, 1.4],
    [0, -0.1, 0.0, 0.2, 0.1, 0.3, 0.2, 0.4, 0.3, 0.2, 0.4, 0.3, 0.5, 0.4, 0.2, 0.3, 0.1, 0.2, 0.4, 0.3, 0.4],
    [0, 0.1, -0.1, -0.3, -0.2, -0.4, -0.3, -0.5, -0.6, -0.4, -0.5, -0.7, -0.6, -0.8, -0.7, -0.5, -0.6, -0.8, -0.7, -0.9, -1.0],
    [0, 0.1, 0.2, 0.4, 0.3, 0.5, 0.7, 0.6, 0.8, 0.9, 0.7, 0.8, 1.0, 0.9, 1.1, 1.0, 0.8, 1.0, 1.1, 0.9, 1.0],
    [0, -0.1, 0.1, 0.0, -0.2, -0.1, 0.1, 0.0, 0.2, 0.1, 0.3, 0.2, 0.0, 0.1, 0.3, 0.2, 0.4, 0.3, 0.1, 0.2, 0.3],
    [0, 0.2, 0.1, 0.3, 0.5, 0.4, 0.2, 0.3, 0.5, 0.7, 0.6, 0.8, 0.7, 0.5, 0.6, 0.8, 0.7, 0.9, 0.8, 0.6, 0.7],
]

title_text = "Trajectories colored by initial score (n=200 seeds)"
x_label = "Epoch (t)"
y_label = "Delta reward from initial"
cbar_label = "Initial score"
xtick_vals = [0, 2.5, 5, 7.5, 10, 12.5, 15, 17.5, 20]
xtick_text = ["0.0", "2.5", "5.0", "7.5", "10.0", "12.5", "15.0", "17.5", "20.0"]
left_yticks = [0, 5, 10, 15, 20]
right_yticks = [-5, -4, -3, -2, -1, 0, 1, 2]
cbar_ticks = [-2, 0, 2, 4, 6, 8]

FONT = "DejaVu Sans"
FS = 7.7
W, H = 903, 305
smin, smax = min(scores), max(scores)
colorscale = [[0, "rgb(255,0,0)"], [1, "rgb(0,0,255)"]]


def color_for(s):
    u = (s - smin) / (smax - smin)
    return "rgb(%d,0,%d)" % (round(255 * (1 - u)), round(255 * u))


fig = go.Figure()
for s, lp, rp in zip(scores, left_paths, right_paths):
    c = color_for(s)
    fig.add_trace(go.Scatter(x=epochs, y=lp, mode="lines", line=dict(color=c, width=1.15),
                             opacity=0.62, xaxis="x", yaxis="y", showlegend=False, hoverinfo="skip"))
    fig.add_trace(go.Scatter(x=epochs, y=rp, mode="lines", line=dict(color=c, width=1.15),
                             opacity=0.62, xaxis="x2", yaxis="y2", showlegend=False, hoverinfo="skip"))

# invisible carriers for the two colour bars
for xa, ya, ca in (("x", "y", "coloraxis"), ("x2", "y2", "coloraxis2")):
    fig.add_trace(go.Scatter(x=[epochs[0], epochs[0]], y=[0, 0], mode="markers",
                             marker=dict(color=[smin, smax], coloraxis=ca, size=1, opacity=0),
                             xaxis=xa, yaxis=ya, showlegend=False, hoverinfo="skip"))


def px_x(p):
    return p / W


def px_y(p):
    return (H - p) / H


line_col = "#444"
common_x = dict(range=[-1, 21], tickvals=xtick_vals, ticktext=xtick_text, ticks="outside",
                ticklen=3.5, tickwidth=0.8, tickcolor=line_col, showline=True, mirror=True,
                linecolor=line_col, linewidth=0.9, showgrid=False, zeroline=False,
                tickfont=dict(family=FONT, size=FS, color="#222"),
                title=dict(text=x_label, font=dict(family=FONT, size=FS, color="#222"), standoff=2),
                automargin=False)
common_y = dict(ticks="outside", ticklen=3.5, tickwidth=0.8, tickcolor=line_col, showline=True,
                mirror=True, linecolor=line_col, linewidth=0.9, showgrid=False, zeroline=False,
                tickfont=dict(family=FONT, size=FS, color="#222"),
                title=dict(text=y_label, font=dict(family=FONT, size=FS, color="#222"), standoff=3),
                automargin=False)

y_dom = [px_y(274), px_y(18)]

fig.update_layout(
    width=W, height=H, margin=dict(l=0, r=0, t=0, b=0),
    paper_bgcolor="white", plot_bgcolor="white", showlegend=False,
    font=dict(family=FONT, size=FS, color="#222"),
    xaxis=dict(common_x, domain=[px_x(32.5), px_x(376)], anchor="y"),
    yaxis=dict(common_y, domain=y_dom, range=[-1.02, 22.07], tickvals=left_yticks, anchor="x"),
    xaxis2=dict(common_x, domain=[px_x(493.7), px_x(837)], anchor="y2"),
    yaxis2=dict(common_y, domain=y_dom, range=[-5.15, 2.87], tickvals=right_yticks, anchor="x2"),
)

for name, xpos, lab_x in (("coloraxis", 398.3, 435), ("coloraxis2", 858.3, 895)):
    fig.update_layout({name: dict(
        cmin=smin, cmax=smax, colorscale=colorscale,
        colorbar=dict(x=px_x(xpos), xanchor="left", xpad=0, y=px_y(274), yanchor="bottom",
                      len=256 / H, lenmode="fraction", ypad=0, thickness=12.4,
                      outlinewidth=0.9, outlinecolor=line_col, tickvals=cbar_ticks,
                      ticks="outside", ticklen=3.5, tickwidth=0.8, tickcolor=line_col,
                      tickfont=dict(family=FONT, size=FS, color="#222")))})
    fig.add_annotation(text=cbar_label, x=px_x(lab_x), y=px_y(146), xref="paper", yref="paper",
                       xanchor="center", yanchor="middle", textangle=-90, showarrow=False,
                       font=dict(family=FONT, size=FS, color="#222"))

for cx in ((32.5 + 376) / 2, (493.7 + 837) / 2):
    fig.add_annotation(text=title_text, x=px_x(cx), y=px_y(10.5), xref="paper", yref="paper",
                       xanchor="center", yanchor="middle", showarrow=False,
                       font=dict(family=FONT, size=9.2, color="#222"))

fig.write_html("out.html")
